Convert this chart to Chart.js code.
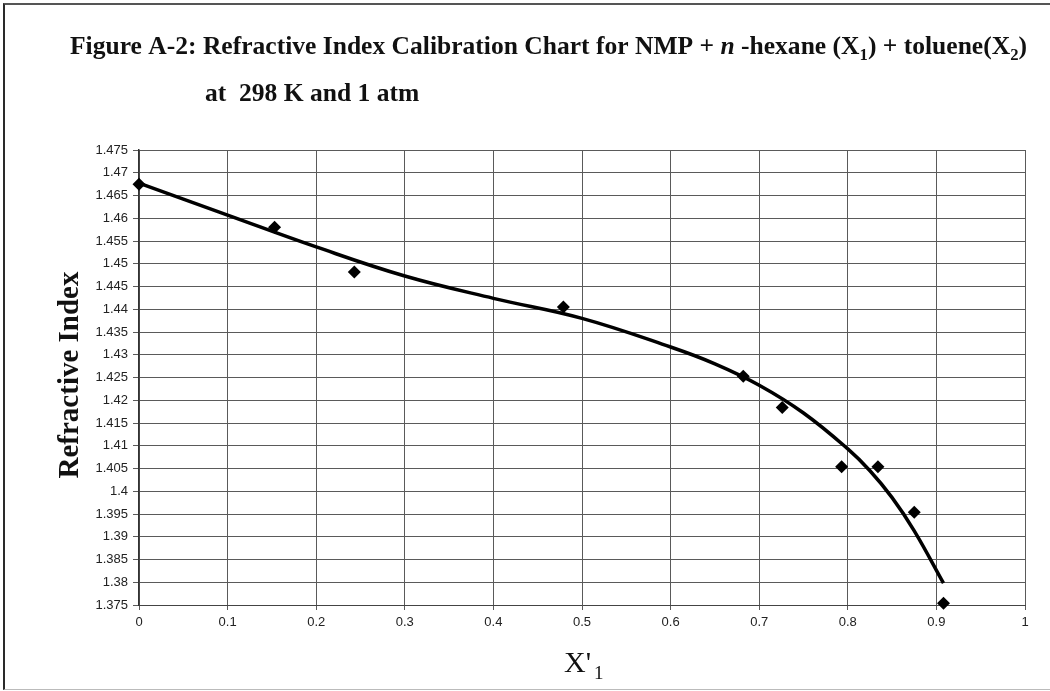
<!DOCTYPE html>
<html>
<head>
<meta charset="utf-8">
<script src="https://cdn.jsdelivr.net/npm/chart.js@4/dist/chart.umd.min.js"></script>
<style>
  html, body { margin: 0; padding: 0; background: #fff; }
  #wrap { position: relative; width: 1050px; height: 691px; }
  #frame {
    position: absolute; left: 3px; top: 3px; width: 1047px; height: 687px;
    border-left: 2px solid #2a2a2a; border-top: 2px solid #555; border-bottom: 1px solid #bbb;
    box-sizing: border-box; pointer-events: none;
  }
</style>
</head>
<body>
<div id="wrap">
  <canvas id="chart" width="1050" height="691"></canvas>
  <div id="frame"></div>
</div>
<script>
// measured mixtures
const xMeasured = [0, 0.153, 0.243, 0.479, 0.682, 0.726, 0.793, 0.834, 0.875, 0.908];
const yMeasured = [1.4675, 1.4580, 1.4482, 1.4405, 1.4253, 1.4184, 1.4054, 1.4054, 1.3954, 1.3754];

// calibration trend line
const xTrend = [0, 0.1, 0.2, 0.3, 0.4, 0.5, 0.6, 0.65, 0.7, 0.75, 0.8, 0.825, 0.85, 0.875, 0.908];
const yTrend = [1.4677, 1.4607, 1.4537, 1.4473, 1.4424, 1.4380, 1.4317, 1.4280, 1.4233, 1.4172, 1.4093, 1.4045, 1.3986, 1.3913, 1.3798];

const xTicks = [0, 0.1, 0.2, 0.3, 0.4, 0.5, 0.6, 0.7, 0.8, 0.9, 1];
const yTicks = [1.375, 1.38, 1.385, 1.39, 1.395, 1.4, 1.405, 1.41, 1.415, 1.42, 1.425,
                1.43, 1.435, 1.44, 1.445, 1.45, 1.455, 1.46, 1.465, 1.47, 1.475];

const titleLine1 = [
  { t: 'Figure A-2: Refractive Index Calibration Chart for NMP + ' },
  { t: 'n', it: true },
  { t: ' -hexane (X' }, { t: '1', sub: true },
  { t: ') + toluene(X' }, { t: '2', sub: true }, { t: ')' }
];
const titleLine2 = [{ t: 'at  298 K and 1 atm' }];
const yTitle = 'Refractive Index';

const SERIF = '"Liberation Serif", "Times New Roman", serif';

function partFont(p, size, weight) {
  const s = p.sub ? Math.round(size * 0.65) : size;
  return (p.it ? 'italic ' : '') + weight + ' ' + s + 'px ' + SERIF;
}
function richWidth(ctx, parts, size, weight) {
  let w = 0;
  for (const p of parts) { ctx.font = partFont(p, size, weight); w += ctx.measureText(p.t).width; }
  return w;
}
function drawRich(ctx, parts, x, baseline, size, weight, sx) {
  ctx.save();
  ctx.translate(x, baseline);
  ctx.scale(sx, 1);
  ctx.textAlign = 'left';
  ctx.textBaseline = 'alphabetic';
  let cx = 0;
  for (const p of parts) {
    ctx.font = partFont(p, size, weight);
    ctx.fillText(p.t, cx, p.sub ? size * 0.22 : 0);
    cx += ctx.measureText(p.t).width;
  }
  ctx.restore();
}

const labels = {
  id: 'labels',
  afterDraw(chart) {
    const ctx = chart.ctx;
    ctx.save();
    ctx.fillStyle = '#111';

    // heading, two lines, squeezed to the printed width
    const size = 26;
    const sx = (1027 - 70) / richWidth(ctx, titleLine1, size, 'bold');
    drawRich(ctx, titleLine1, 70, 54, size, 'bold', sx);
    drawRich(ctx, titleLine2, 205, 101, size, 'bold', sx);

    // y axis title
    ctx.save();
    ctx.translate(78, 375);
    ctx.rotate(-Math.PI / 2);
    ctx.font = 'bold 29px ' + SERIF;
    ctx.textAlign = 'center';
    ctx.textBaseline = 'alphabetic';
    ctx.fillText(yTitle, 0, 0);
    ctx.restore();

    // x axis title X'1
    ctx.font = '30px ' + SERIF;
    ctx.textAlign = 'left';
    ctx.textBaseline = 'alphabetic';
    ctx.fillText("X'", 564, 672);
    ctx.font = '19px ' + SERIF;
    ctx.fillText('1', 594, 679);
    ctx.restore();
  }
};

const fmt = v => String(+v.toFixed(3));

new Chart(document.getElementById('chart'), {
  type: 'scatter',
  data: {
    datasets: [
      {
        label: 'Measured',
        data: xMeasured.map((x, i) => ({ x, y: yMeasured[i] })),
        pointStyle: 'rectRot',
        pointRadius: 6.5,
        pointBackgroundColor: '#000',
        pointBorderColor: '#000',
        pointBorderWidth: 0,
        clip: false,
      },
      {
        label: 'Trend',
        data: xTrend.map((x, i) => ({ x, y: yTrend[i] })),
        showLine: true,
        borderColor: '#000',
        borderWidth: 3.5,
        pointRadius: 0,
        tension: 0.4,
        clip: false,
      },
    ],
  },
  options: {
    responsive: false,
    animation: false,
    devicePixelRatio: 1,
    layout: { padding: { top: 150, right: 25, bottom: 0, left: 0 } },
    plugins: {
      legend: { display: false },
      title: { display: false },
      tooltip: { enabled: false },
    },
    scales: {
      x: {
        type: 'linear',
        min: 0,
        max: 1,
        afterBuildTicks: s => { s.ticks = xTicks.map(v => ({ value: v })); },
        afterFit: s => { s.height = 86; },
        ticks: {
          callback: fmt,
          font: { family: '"Liberation Sans", Arial, sans-serif', size: 13 },
          color: '#222',
          padding: 5,
          maxRotation: 0,
        },
        grid: { color: '#5a5a5a', lineWidth: 1, tickLength: 5 },
        border: { color: '#444', width: 1 },
      },
      y: {
        type: 'linear',
        min: 1.375,
        max: 1.475,
        afterBuildTicks: s => { s.ticks = yTicks.map(v => ({ value: v })); },
        afterFit: s => { s.width = 139; },
        ticks: {
          callback: fmt,
          font: { family: '"Liberation Sans", Arial, sans-serif', size: 13 },
          color: '#222',
          padding: 5,
        },
        grid: { color: '#5a5a5a', lineWidth: 1, tickLength: 6 },
        border: { color: '#333', width: 1.5 },
      },
    },
  },
  plugins: [labels],
});
</script>
</body>
</html>
